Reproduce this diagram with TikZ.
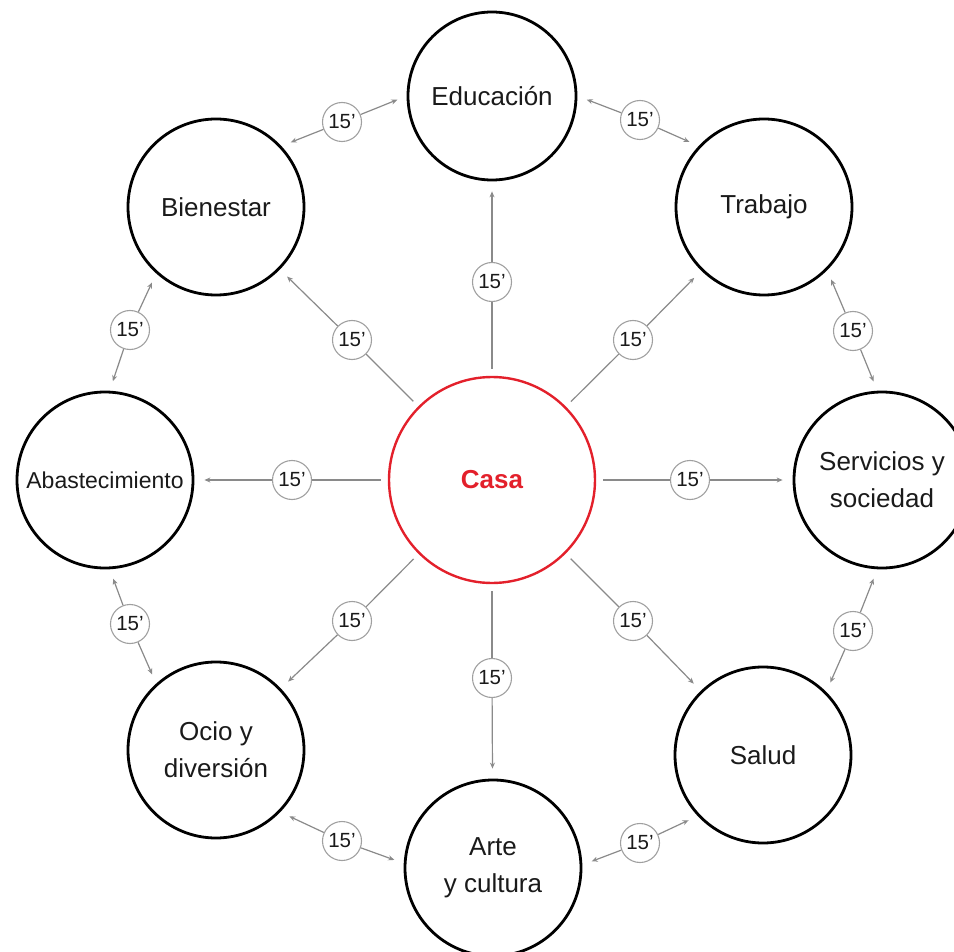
\documentclass[tikz,border=0pt]{standalone}
\usepackage{fontspec}
\setmainfont{Liberation Sans}
\usetikzlibrary{arrows.meta}
\definecolor{casared}{HTML}{E3202B}
\definecolor{linegray}{HTML}{8A8A8A}
\definecolor{labgray}{HTML}{A0A0A0}
\definecolor{txt}{HTML}{1A1A1A}
\tikzset{
  bigc/.style={circle, draw=black, line width=2.8pt, minimum size=176pt, inner sep=0pt, align=center, text=txt, font=\fontsize{26}{37}\selectfont},
  casac/.style={circle, draw=casared, line width=2.4pt, minimum size=206pt, inner sep=0pt, text=casared, font=\fontsize{26}{30}\selectfont\bfseries},
  lab/.style={circle, draw=labgray, line width=1.1pt, fill=white, minimum size=39pt, inner sep=0pt, text=txt, font=\fontsize{20.5}{20.5}\selectfont},
  spoke/.style={draw=linegray, line width=1.2pt},
  tip/.style={-{Stealth[length=6pt,width=5pt]}, shorten >=10pt}
}
\begin{document}
\begin{tikzpicture}[x=1pt,y=-1pt]
\useasboundingbox (0,0) rectangle (954,952);
% main nodes
\node[casac] (casa) at (492,480) {Casa};
\node[bigc, minimum size=168pt] (edu) at (492,96) {Educación};
\node[bigc] (trab) at (764,207) {Trabajo};
\node[bigc] (serv) at (882,480) {Servicios y\\sociedad};
\node[bigc] (salud) at (763,755) {Salud};
\node[bigc] (arte) at (493,868) {Arte\\y cultura};
\node[bigc] (ocio) at (216,750) {Ocio y\\diversión};
\node[bigc, font=\fontsize{23}{30}\selectfont] (abast) at (105,480) {Abastecimiento};
\node[bigc] (bien) at (216,207) {Bienestar};
% spoke labels
\node[lab] (lE) at (492,282) {15’};
\node[lab] (lT) at (633,340) {15’};
\node[lab] (lS) at (690,480) {15’};
\node[lab] (lSa) at (633,621) {15’};
\node[lab] (lA) at (492,678) {15’};
\node[lab] (lO) at (352,621) {15’};
\node[lab] (lAb) at (292,480) {15’};
\node[lab] (lB) at (352,340) {15’};
% ring labels
\node[lab] (r1) at (342,122) {15’};
\node[lab] (r2) at (640,120) {15’};
\node[lab] (r3) at (853,331) {15’};
\node[lab] (r4) at (853,631) {15’};
\node[lab] (r5) at (640,843) {15’};
\node[lab] (r6) at (342,841) {15’};
\node[lab] (r7) at (130,624) {15’};
\node[lab] (r8) at (130,330) {15’};
% spokes
\foreach \l/\t in {lE/edu, lT/trab, lS/serv, lSa/salud, lA/arte, lO/ocio, lAb/abast, lB/bien}{
  \draw[spoke, shorten <=7pt] (casa) -- (\l);
  \draw[spoke, tip] (\l) -- (\t);
}
% ring connectors
\foreach \l/\a/\b in {r1/bien.43/edu.180, r2/edu.0/trab.137, r3/trab.-45/serv.93, r4/serv.-93/salud.45, r5/salud.223/arte.2, r6/arte.177/ocio.-44, r7/ocio.132/abast.-87, r8/abast.87/bien.228}{
  \draw[spoke, tip] (\l) -- (\a);
  \draw[spoke, tip] (\l) -- (\b);
}
\end{tikzpicture}
\end{document}
